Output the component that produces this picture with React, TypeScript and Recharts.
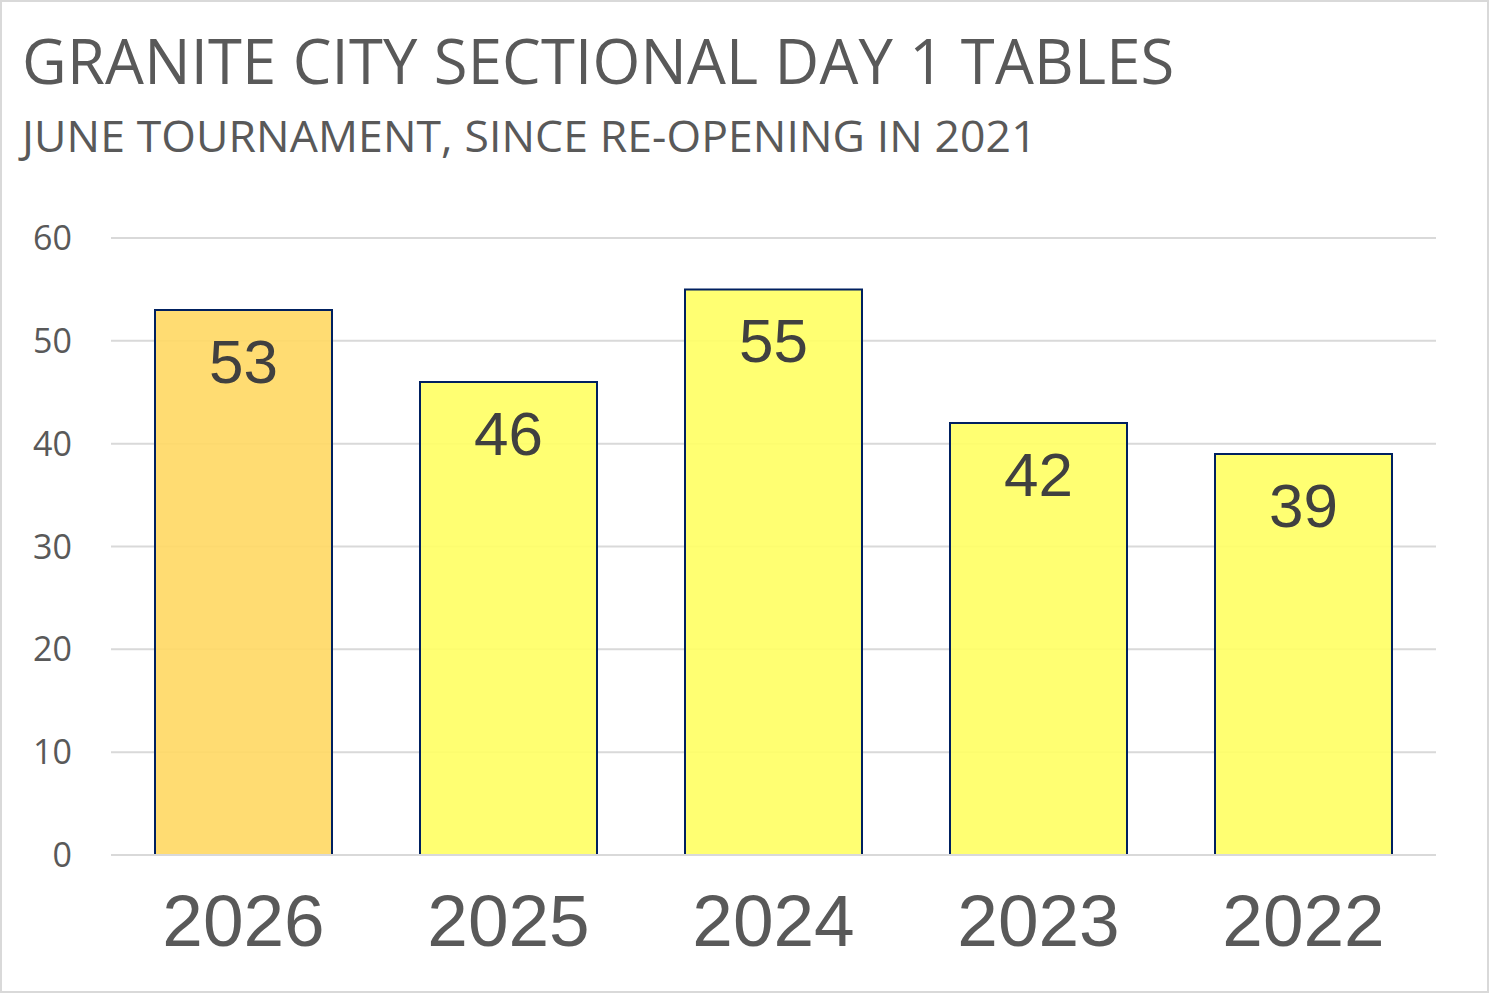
import { Bar, BarChart, CartesianGrid, Cell, LabelList, XAxis, YAxis } from 'recharts';

const years = ['2026', '2025', '2024', '2023', '2022'];
const tables = [53, 46, 55, 42, 39];
const yTicks = [0, 10, 20, 30, 40, 50, 60];

const TITLE = 'GRANITE CITY SECTIONAL DAY 1 TABLES';
const SUBTITLE = 'JUNE TOURNAMENT, SINCE RE-OPENING IN 2021';

const W = 1489;
const H = 993;
const CURRENT_FILL = '#FFD966';
const PAST_FILL = '#FFFF66';
const BAR_STROKE = '#002060';
const GRID = '#D9D9D9';

const chartData = years.map((year, i) => ({ year, tables: tables[i] }));

function YTick(props: { x?: number; y?: number; payload?: { value: number } }) {
  const { x = 0, y = 0, payload } = props;
  return (
    <text
      x={x}
      y={y}
      dy={12}
      textAnchor="end"
      fill="#595959"
      fontSize={34}
      fontFamily="'Open Sans', sans-serif"
    >
      {payload?.value}
    </text>
  );
}

function XTick(props: { x?: number; y?: number; payload?: { value: string } }) {
  const { x = 0, y = 0, payload } = props;
  return (
    <text
      x={x}
      y={y}
      dy={83}
      textAnchor="middle"
      fill="#595959"
      fontSize={73}
      fontFamily="'Liberation Sans', Arial, sans-serif"
    >
      {payload?.value}
    </text>
  );
}

export default function App() {
  return (
    <div
      style={{
        position: 'fixed',
        left: 0,
        top: 0,
        width: W,
        height: H,
        background: '#fff',
        boxSizing: 'border-box',
        border: `2px solid ${GRID}`,
        overflow: 'hidden',
      }}
    >
      <div
        style={{
          position: 'absolute',
          left: 20,
          top: 22,
          fontFamily: "'Open Sans', sans-serif",
          fontSize: 61.5,
          color: '#595959',
          whiteSpace: 'nowrap',
          lineHeight: 1.2,
          letterSpacing: 0.2,
        }}
      >
        {TITLE}
      </div>
      <div
        style={{
          position: 'absolute',
          left: 20,
          top: 106,
          fontFamily: "'Open Sans', sans-serif",
          fontSize: 44.5,
          color: '#595959',
          whiteSpace: 'nowrap',
          lineHeight: 1.2,
          letterSpacing: 0.1,
        }}
      >
        {SUBTITLE}
      </div>
      <div style={{ position: 'absolute', left: -2, top: -2 }}>
        <BarChart
          width={W}
          height={H}
          data={chartData}
          margin={{ top: 238, right: 53, bottom: 0, left: 0 }}
        >
          <CartesianGrid vertical={false} stroke={GRID} strokeWidth={2} />
          <XAxis
            dataKey="year"
            axisLine={{ stroke: GRID, strokeWidth: 2 }}
            tickLine={false}
            tick={<XTick />}
            height={138}
          />
          <YAxis
            domain={[0, 60]}
            ticks={yTicks}
            width={111}
            axisLine={false}
            tickLine={false}
            tickSize={0}
            tickMargin={39}
            tick={<YTick />}
          />
          <Bar
            dataKey="tables"
            barSize={177}
            stroke={BAR_STROKE}
            strokeWidth={2}
            fillOpacity={0.92}
            isAnimationActive={false}
          >
            {chartData.map((d, i) => (
              <Cell key={d.year} fill={i === 0 ? CURRENT_FILL : PAST_FILL} />
            ))}
            <LabelList
              dataKey="tables"
              position="insideTop"
              offset={29}
              fill="#404040"
              fontSize={62}
              fontFamily="'Liberation Sans', Arial, sans-serif"
            />
          </Bar>
        </BarChart>
      </div>
    </div>
  );
}
